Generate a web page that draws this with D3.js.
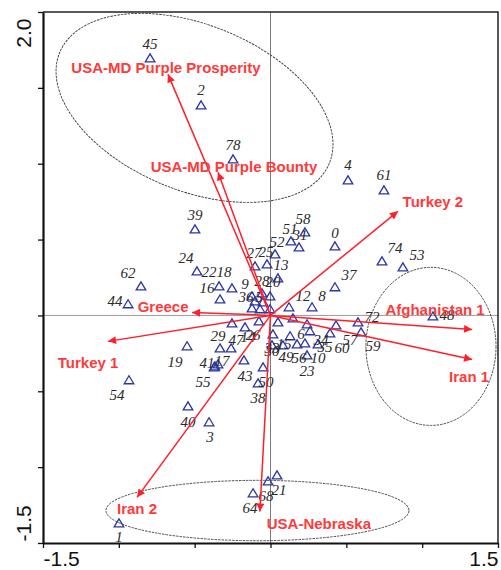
<!DOCTYPE html>
<html>
<head>
<meta charset="utf-8">
<script src="https://cdn.jsdelivr.net/npm/d3@7/dist/d3.min.js"></script>
<style>
  body { margin: 0; background: #fff; }
  svg { display: block; }
</style>
</head>
<body>
<svg id="chart" width="501" height="570"></svg>
<script>
// ---- Site scores on ordination axes 1 and 2 ----
const siteIds = ["45","2","78","4","61","39","24","22","18","16","62","44","19","54","29","47","71","14","26","41","17","55","43","50","38","40","3","1","21","68","64","58","51","31","0","52","27","25","13","74","53","37","12","8","48","72","59","57","60","34","35","6","10","56","49","23","15","33","30","9","28","20","36","5","42","46","67","7","11"];
const siteX = [-0.794,-0.458,-0.247,0.511,0.748,-0.498,-0.485,-0.339,-0.254,-0.333,-0.854,-0.939,-0.550,-0.933,-0.333,-0.260,-0.254,-0.168,-0.076,-0.366,-0.346,-0.372,-0.175,-0.049,-0.082,-0.544,-0.405,-0.999,0.043,-0.016,-0.115,0.227,0.135,0.188,0.425,0.030,-0.102,-0.023,0.049,0.735,0.873,0.425,0.122,0.274,1.071,0.577,0.597,0.432,0.392,0.260,0.313,0.241,0.227,0.175,0.082,0.241,0.129,0.016,0.010,-0.122,-0.056,-0.003,-0.102,-0.049,-0.122,-0.069,-0.003,0.049,0.148];
const siteY = [1.694,1.384,1.028,0.890,0.824,0.567,0.290,0.191,0.178,0.105,0.191,0.073,-0.204,-0.428,-0.218,-0.218,-0.053,-0.079,-0.040,-0.336,-0.323,-0.343,-0.297,-0.343,-0.448,-0.600,-0.705,-1.371,-1.055,-1.094,-1.173,0.547,0.488,0.448,0.455,0.402,0.323,0.336,0.244,0.356,0.316,0.185,0.053,0.053,-0.007,-0.046,-0.112,-0.066,-0.119,-0.105,-0.191,-0.059,-0.185,-0.191,-0.198,-0.264,-0.138,-0.125,-0.198,0.125,0.145,0.125,0.092,0.086,0.046,0.040,0.040,-0.046,-0.020];

// ---- Variable (origin) loadings drawn as arrows ----
const varNames = ["USA-MD Purple Prosperity","USA-MD Purple Bounty","Turkey 2","Afghanistan 1","Iran 1","Greece","Turkey 1","Iran 2","USA-Nebraska"];
const varX = [-0.676,-0.346,0.840,1.329,1.329,-0.517,-1.071,-0.880,-0.070];
const varY = [1.589,0.943,0.686,-0.092,-0.290,0.020,-0.171,-1.199,-1.292];

// ---- Group ellipses (centre, semi-axes in axis units, tilt in degrees) ----
const ellipseCX = [-0.501, 1.058, -0.086];
const ellipseCY = [1.368, -0.204, -1.286];
const ellipseRX = [0.961, 0.429, 0.999];
const ellipseRY = [0.546, 0.521, 0.199];
const ellipseTilt = [22.3, 0, 0];

// ---- Axis ticks ----
const xTicks = [-1.5,-1.0,-0.5,0,0.5,1.0,1.5];
const yTicks = [-1.5,-1.0,-0.5,0,0.5,1.0,1.5,2.0];
const xTickLabels = ["-1.5","","","","","","1.5"];
const yTickLabels = ["-1.5","","","","","","","2.0"];

// ---- Layout: label nudges (pixels) relative to the marker / arrow tip ----
const siteLabelNudge = {
  "45":[0,-14],"2":[0,-15],"78":[0,-14],"4":[0,-15],"61":[0,-15],"39":[0,-14],
  "24":[-11,-13],"22":[-10,-14],"18":[-8,-16],"16":[-13,-11],"62":[-13,-13],"44":[-13,-3],
  "19":[-12,16],"54":[-12,15],"29":[-2,-13],"47":[5,-9],"14":[3,10],"26":[-6,14],
  "41":[-8,-3],"17":[4,-3],"55":[-11,15],"43":[1,16],"50":[3,15],"38":[0,15],
  "40":[0,16],"3":[1,15],"1":[0,14],"21":[2,15],"68":[-2,15],"64":[-3,15],
  "58":[-2,-13],"51":[-1,-12],"31":[1,-12],"0":[0,-13],"52":[2,-12],"27":[-1,-13],
  "25":[-1,-12],"13":[3,-13],"74":[13,-13],"53":[14,-12],"37":[14,-12],"12":[14,-11],
  "8":[10,-11],"48":[14,-1],"72":[14,-5],"59":[12,14],"57":[14,15],"60":[12,15],
  "34":[11,9],"35":[7,3],"6":[-6,10],"10":[13,15],"56":[2,14],"49":[3,12],
  "23":[0,16],"15":[-6,8],"33":[-1,14],"30":[0,6],"9":[-7,-12],"28":[0,-12],
  "20":[3,-14],"36":[-9,-4],"5":[-4,-5]
};
const varLabelNudge = [[-2,-7],[16,-6],[35,-10],[-37,-20],[-3,17],[-29,-6],[-20,21],[0,11],[59,12]];

const plot = { left: 43, right: 498, top: 12, bottom: 543 };

const svg = d3.select("#chart");

const x = d3.scaleLinear().domain([-1.5, 1.5]).range([plot.left, plot.right]);
const y = d3.scaleLinear().domain([-1.5, 2.0]).range([plot.bottom, plot.top]);

const red = "#ff1f2a";
const redText = "#ff3a3a";

// arrow head marker
svg.append("defs").append("marker")
  .attr("id", "head")
  .attr("viewBox", "0 0 10 10")
  .attr("refX", 10).attr("refY", 5)
  .attr("markerWidth", 11).attr("markerHeight", 8)
  .attr("markerUnits", "userSpaceOnUse")
  .attr("orient", "auto")
  .append("path").attr("d", "M0,0L10,5L0,10Z").attr("fill", red);

// zero reference lines
svg.append("line")
  .attr("x1", x(0)).attr("x2", x(0)).attr("y1", y(2.0)).attr("y2", y(-1.5))
  .attr("stroke", "#7a7a7a").attr("stroke-width", 1);
svg.append("line")
  .attr("x1", x(-1.5)).attr("x2", x(1.5)).attr("y1", y(0)).attr("y2", y(0))
  .attr("stroke", "#9a9a9a").attr("stroke-width", 1);

// group ellipses
const ellipses = d3.range(ellipseCX.length).map(i => ({
  cx: ellipseCX[i], cy: ellipseCY[i], rx: ellipseRX[i], ry: ellipseRY[i], tilt: ellipseTilt[i]
}));
svg.append("g").selectAll("ellipse").data(ellipses).join("ellipse")
  .attr("transform", d => `translate(${x(d.cx)},${y(d.cy)}) rotate(${d.tilt})`)
  .attr("rx", d => x(d.rx) - x(0))
  .attr("ry", d => y(0) - y(d.ry))
  .attr("fill", "none")
  .attr("stroke", "#3a3a3a")
  .attr("stroke-width", 0.9)
  .attr("stroke-dasharray", "2.5,1");

// site markers (open triangles) and their numbers
const sites = siteIds.map((id, i) => ({ id, x: siteX[i], y: siteY[i] }));
const tri = "M0,-4.6L4.8,3.4L-4.8,3.4Z";
svg.append("g").selectAll("path").data(sites).join("path")
  .attr("d", tri)
  .attr("transform", d => `translate(${x(d.x)},${y(d.y)})`)
  .attr("fill", "none")
  .attr("stroke", "#2a35a8")
  .attr("stroke-width", 1.3);

svg.append("g").selectAll("text").data(sites.filter(d => siteLabelNudge[d.id])).join("text")
  .attr("x", d => x(d.x) + siteLabelNudge[d.id][0])
  .attr("y", d => y(d.y) + siteLabelNudge[d.id][1] + 5)
  .attr("text-anchor", "middle")
  .attr("font-family", "'Liberation Serif', 'DejaVu Serif', serif")
  .attr("font-style", "italic")
  .attr("font-size", 15)
  .attr("fill", "#2a2a2a")
  .text(d => d.id);

// loading arrows from the origin
const vars = varNames.map((name, i) => ({ name, x: varX[i], y: varY[i], nudge: varLabelNudge[i] }));
svg.append("g").selectAll("line").data(vars).join("line")
  .attr("x1", x(0)).attr("y1", y(0))
  .attr("x2", d => x(d.x)).attr("y2", d => y(d.y))
  .attr("stroke", red)
  .attr("stroke-width", 1.5)
  .attr("marker-end", "url(#head)");

svg.append("g").selectAll("text").data(vars).join("text")
  .attr("x", d => x(d.x) + d.nudge[0])
  .attr("y", d => y(d.y) + d.nudge[1] + 5.5)
  .attr("text-anchor", "middle")
  .attr("font-family", "'Liberation Sans', Arial, sans-serif")
  .attr("font-weight", "bold")
  .attr("font-size", 15)
  .attr("fill", redText)
  .text(d => d.name);

// frame: thin top/right border
svg.append("path")
  .attr("d", `M${x(-1.5)},${y(2.0)}H${x(1.5)}V${y(-1.5)}`)
  .attr("fill", "none").attr("stroke", "#222").attr("stroke-width", 1.5);

// axes
const xAxis = d3.axisBottom(x).tickValues(xTicks).tickSize(5).tickSizeOuter(0)
  .tickFormat((d, i) => xTickLabels[i]);
const gx = svg.append("g").attr("transform", `translate(0,${y(-1.5)})`).call(xAxis);
gx.select(".domain").attr("stroke", "#111").attr("stroke-width", 2.2);
gx.selectAll(".tick line").attr("stroke", "#111").attr("stroke-width", 1.3);
gx.selectAll(".tick text")
  .attr("font-family", "'Liberation Sans', Arial, sans-serif")
  .attr("font-size", 21).attr("fill", "#111")
  .attr("dy", null).attr("y", 23)
  .attr("text-anchor", (d, i) => i === 0 ? "start" : "end");

const yAxis = d3.axisLeft(y).tickValues(yTicks).tickSize(5).tickSizeOuter(0)
  .tickFormat((d, i) => yTickLabels[i]);
const gy = svg.append("g").attr("transform", `translate(${x(-1.5)},0)`).call(yAxis);
gy.select(".domain").attr("stroke", "#111").attr("stroke-width", 2.2);
gy.selectAll(".tick line").attr("stroke", "#111").attr("stroke-width", 1.3);
gy.selectAll(".tick text")
  .attr("font-family", "'Liberation Sans', Arial, sans-serif")
  .attr("font-size", 21).attr("fill", "#111")
  .attr("x", null).attr("dy", null)
  .attr("transform", (d, i) => `translate(-12,${i === 0 ? -2 : 6}) rotate(-90)`)
  .attr("text-anchor", (d, i) => i === 0 ? "start" : "end");
</script>
</body>
</html>
